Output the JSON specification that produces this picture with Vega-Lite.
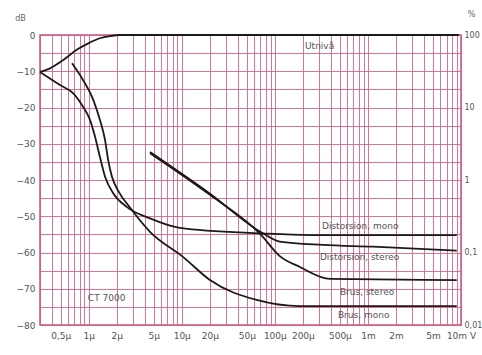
{
  "$schema": "https://vega.github.io/schema/vega-lite/v6.json",
  "width": 421,
  "height": 290,
  "autosize": {"type": "none"},
  "padding": {"left": 40, "top": 35, "right": 21, "bottom": 30},
  "background": "white",
  "config": {
    "view": {"stroke": "#c9557a", "strokeWidth": 1.5},
    "font": "DejaVu Sans"
  },
  "datasets": {
    "curves": [
      {"series": "Utnivå", "u": 0.3, "db": -10.2},
      {"series": "Utnivå", "u": 0.384, "db": -9.2},
      {"series": "Utnivå", "u": 0.534, "db": -6.9},
      {"series": "Utnivå", "u": 0.743, "db": -4.1},
      {"series": "Utnivå", "u": 0.99, "db": -2.3},
      {"series": "Utnivå", "u": 1.32, "db": -0.9},
      {"series": "Utnivå", "u": 1.7, "db": -0.3},
      {"series": "Utnivå", "u": 2.17, "db": 0},
      {"series": "Utnivå", "u": 9500, "db": 0},
      {"series": "Distorsion, mono", "u": 0.3, "db": -10.2},
      {"series": "Distorsion, mono", "u": 0.492, "db": -13.8},
      {"series": "Distorsion, mono", "u": 0.684, "db": -16.1},
      {"series": "Distorsion, mono", "u": 0.869, "db": -19.8},
      {"series": "Distorsion, mono", "u": 1.033, "db": -23.4},
      {"series": "Distorsion, mono", "u": 1.169, "db": -28},
      {"series": "Distorsion, mono", "u": 1.32, "db": -33.6},
      {"series": "Distorsion, mono", "u": 1.5, "db": -39.1},
      {"series": "Distorsion, mono", "u": 1.84, "db": -43.7},
      {"series": "Distorsion, mono", "u": 2.56, "db": -47.4},
      {"series": "Distorsion, mono", "u": 4.56, "db": -50.6},
      {"series": "Distorsion, mono", "u": 9.55, "db": -53.2},
      {"series": "Distorsion, mono", "u": 69.2, "db": -54.7},
      {"series": "Distorsion, mono", "u": 238, "db": -55.2},
      {"series": "Distorsion, mono", "u": 9000, "db": -55.2},
      {"series": "Brus, mono", "u": 0.662, "db": -7.8},
      {"series": "Brus, mono", "u": 0.869, "db": -12.4},
      {"series": "Brus, mono", "u": 1.12, "db": -17.9},
      {"series": "Brus, mono", "u": 1.32, "db": -23.4},
      {"series": "Brus, mono", "u": 1.5, "db": -29},
      {"series": "Brus, mono", "u": 1.62, "db": -34.5},
      {"series": "Brus, mono", "u": 1.78, "db": -39.1},
      {"series": "Brus, mono", "u": 2.1, "db": -43.2},
      {"series": "Brus, mono", "u": 2.78, "db": -47.6},
      {"series": "Brus, mono", "u": 4.56, "db": -54.3},
      {"series": "Brus, mono", "u": 10.3, "db": -61.2},
      {"series": "Brus, mono", "u": 20.1, "db": -67.6},
      {"series": "Brus, mono", "u": 63.8, "db": -73.1},
      {"series": "Brus, mono", "u": 186, "db": -74.8},
      {"series": "Brus, mono", "u": 9000, "db": -74.8},
      {"series": "Distorsion, stereo", "u": 4.56, "db": -32.3},
      {"series": "Distorsion, stereo", "u": 20.1, "db": -43.8},
      {"series": "Distorsion, stereo", "u": 69.2, "db": -54.2},
      {"series": "Distorsion, stereo", "u": 113, "db": -57.0},
      {"series": "Distorsion, stereo", "u": 329, "db": -57.9},
      {"series": "Distorsion, stereo", "u": 1133, "db": -58.4},
      {"series": "Distorsion, stereo", "u": 9000, "db": -59.5},
      {"series": "Brus, stereo", "u": 4.56, "db": -32.6},
      {"series": "Brus, stereo", "u": 20.1, "db": -44.1},
      {"series": "Brus, stereo", "u": 69.2, "db": -54.8},
      {"series": "Brus, stereo", "u": 113, "db": -61},
      {"series": "Brus, stereo", "u": 186, "db": -64},
      {"series": "Brus, stereo", "u": 391, "db": -67.3},
      {"series": "Brus, stereo", "u": 9000, "db": -67.6}
    ],
    "labels": [
      {"text": "Utnivå", "u": 211, "db": -3.0},
      {"text": "Distorsion, mono", "u": 321, "db": -52.7},
      {"text": "Distorsion, stereo", "u": 305, "db": -61.2},
      {"text": "Brus, stereo", "u": 500, "db": -70.9},
      {"text": "Brus, mono", "u": 476, "db": -77.2}
    ],
    "model": [
      {"text": "CT 7000", "u": 0.98, "db": -72.6}
    ]
  },
  "resolve": {
    "scale": {"x": "shared", "y": "shared"},
    "axis": {"x": "independent", "y": "independent"}
  },
  "layer": [
    {
      "data": {"name": "curves"},
      "mark": {"type": "line", "interpolate": "monotone", "stroke": "#1a1a1a", "strokeWidth": 1.8},
      "encoding": {
        "x": {
          "field": "u", "type": "quantitative",
          "scale": {"type": "log", "domain": [0.3, 10000], "nice": false},
          "axis": {
            "orient": "bottom",
            "values": [0.3,0.4,0.5,0.6,0.7,0.8,0.9,1,2,3,4,5,6,7,8,9,10,20,30,40,50,60,70,80,90,100,200,300,400,500,600,700,800,900,1000,2000,3000,4000,5000,6000,7000,8000,9000,10000],
            "labels": false, "ticks": false, "domain": false, "title": null,
            "grid": true, "gridColor": "#d25d84", "gridWidth": 1, "gridOpacity": 0.85
          }
        },
        "y": {
          "field": "db", "type": "quantitative",
          "scale": {"domain": [-80, 0], "nice": false, "zero": false},
          "axis": {
            "orient": "left",
            "values": [-80,-75,-70,-65,-60,-55,-50,-45,-40,-35,-30,-25,-20,-15,-10,-5,0],
            "labels": false, "ticks": false, "domain": false, "title": null,
            "grid": true, "gridColor": "#d25d84", "gridWidth": 1, "gridOpacity": 0.85
          }
        },
        "detail": {"field": "series"}
      }
    },
    {
      "data": {"name": "labels"},
      "mark": {"type": "text", "align": "left", "baseline": "middle", "fontSize": 9, "fill": "#555555"},
      "encoding": {
        "x": {
          "field": "u", "type": "quantitative",
          "scale": {"type": "log", "domain": [0.3, 10000], "nice": false},
          "axis": {
            "orient": "bottom",
            "values": [0.5,1,2,5,10,20,50,100,200,500,1000,2000,5000,10000],
            "labelExpr": "datum.value >= 1000 ? format(datum.value/1000, 'd') + 'm' + (datum.value == 10000 ? ' V' : '') : replace(format(datum.value, '~g'), '.', ',') + 'µ'",
            "grid": false, "ticks": false, "domain": false, "title": null,
            "labelFontSize": 9, "labelColor": "#555555", "labelPadding": 6,
            "labelOverlap": false, "labelBound": false, "labelFlush": false
          }
        },
        "y": {
          "field": "db", "type": "quantitative",
          "scale": {"domain": [-80, 0], "nice": false, "zero": false},
          "axis": {
            "orient": "left",
            "values": [0,-10,-20,-30,-40,-50,-60,-70,-80],
            "grid": false, "ticks": false, "domain": false,
            "labelFontSize": 9, "labelColor": "#555555", "labelPadding": 5,
            "title": "dB", "titleAngle": 0, "titleFontSize": 8, "titleFontWeight": "normal",
            "titleColor": "#666666", "titleX": -20, "titleY": -13, "titleAlign": "center"
          }
        },
        "text": {"field": "text"}
      }
    },
    {
      "data": {"name": "model"},
      "mark": {"type": "text", "align": "left", "baseline": "middle", "fontSize": 9, "fill": "#555555"},
      "encoding": {
        "x": {
          "field": "u", "type": "quantitative",
          "scale": {"type": "log", "domain": [0.3, 10000], "nice": false},
          "axis": null
        },
        "y": {
          "field": "db", "type": "quantitative",
          "scale": {"domain": [-80, 0], "nice": false, "zero": false},
          "axis": {
            "orient": "right",
            "values": [0,-20,-40,-60,-80],
            "labelExpr": "datum.value == 0 ? '100' : datum.value == -20 ? '10' : datum.value == -40 ? '1' : datum.value == -60 ? '0,1' : '0,01'",
            "grid": false, "ticks": false, "domain": false,
            "labelFontSize": 8, "labelColor": "#555555", "labelPadding": 3,
            "title": "%", "titleAngle": 0, "titleFontSize": 8, "titleFontWeight": "normal",
            "titleColor": "#666666", "titleX": 10, "titleY": -17, "titleAlign": "center"
          }
        },
        "text": {"field": "text"}
      }
    }
  ]
}
